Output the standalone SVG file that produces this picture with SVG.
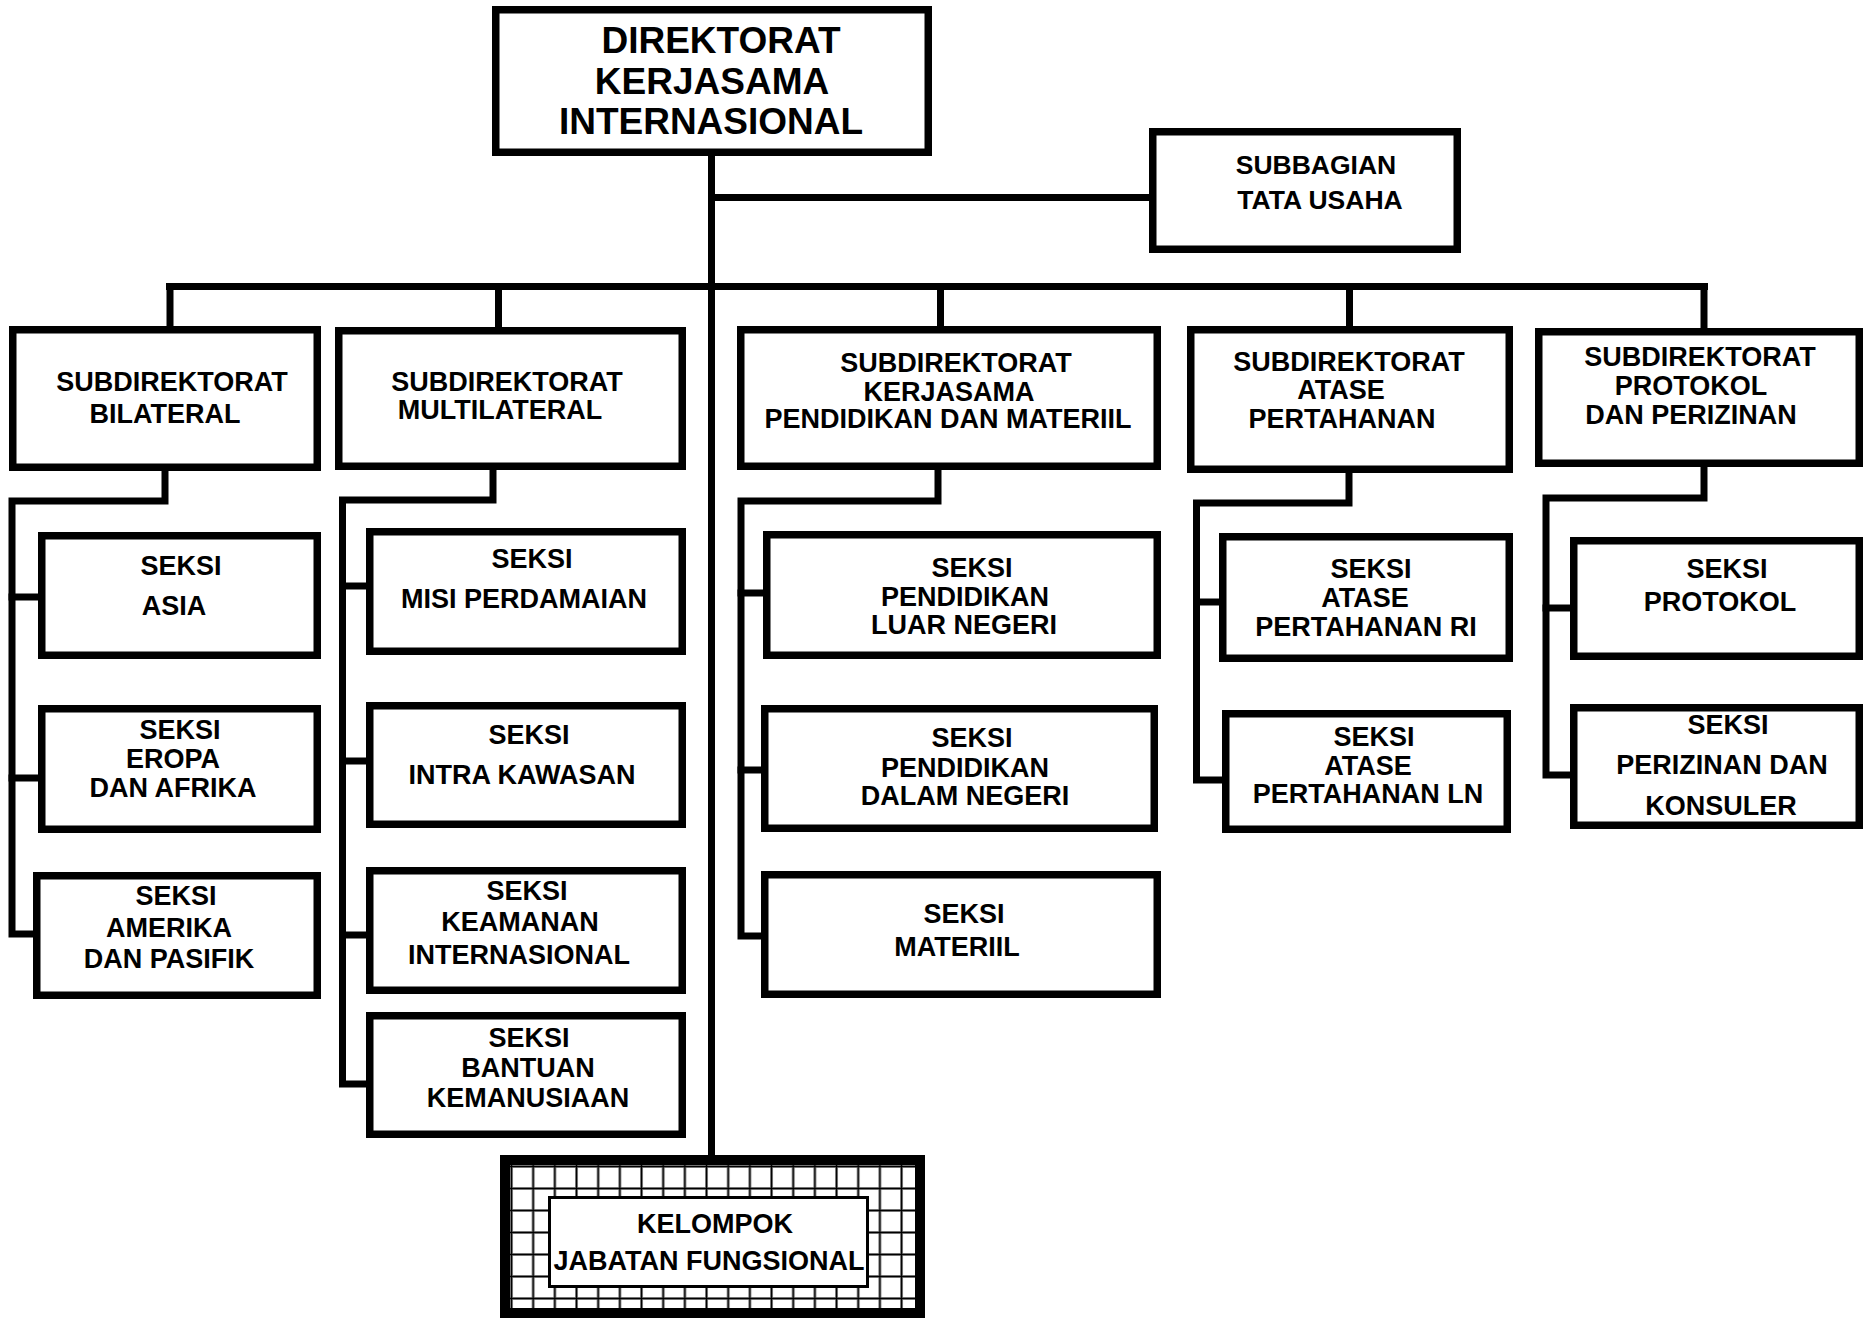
<svg xmlns="http://www.w3.org/2000/svg" width="1865" height="1320" viewBox="0 0 1865 1320">
<style>
.box{fill:#fff;stroke:#000;stroke-width:7.5}
.t{font-family:"Liberation Sans",Arial,sans-serif;font-weight:bold;font-size:27px;fill:#000;text-anchor:middle}
.big{font-size:37px}
.sb{font-size:26.5px}
.k{font-size:27px}
.c{fill:none;stroke:#000;stroke-width:7;stroke-linecap:square;stroke-linejoin:miter}
</style>
<defs>
<pattern id="grid" patternUnits="userSpaceOnUse" x="510" y="1165" width="21.67" height="22">
<rect x="0" y="0" width="21.67" height="22" fill="#fff"/>
<rect x="0" y="0" width="3" height="22" fill="#999"/>
<rect x="0" y="0" width="21.67" height="3" fill="#999"/>
<rect x="0.75" y="0" width="1.5" height="22" fill="#000"/>
<rect x="0" y="0.75" width="21.67" height="1.5" fill="#000"/>
</pattern>
</defs>
<rect width="1865" height="1320" fill="#fff"/>
<g id="connectors">
<path class="c" d="M711.5 156 V1155"/>
<path class="c" d="M711.5 197.5 H1149"/>
<path class="c" d="M169.5 286.5 H1704.5"/>
<path class="c" d="M170 290 V326"/>
<path class="c" d="M498.5 290 V327"/>
<path class="c" d="M940.5 290 V326"/>
<path class="c" d="M1349.5 290 V326"/>
<path class="c" d="M1704 290 V328"/>
<path class="c" d="M165 471 V501 H12 V934 H33"/>
<path class="c" d="M12 597 H38"/>
<path class="c" d="M12 778 H38"/>
<path class="c" d="M493 470 V500 H342.5 V1084 H366"/>
<path class="c" d="M342.5 586 H366"/>
<path class="c" d="M342.5 761 H366"/>
<path class="c" d="M342.5 935 H366"/>
<path class="c" d="M938 470 V501 H741 V936 H761"/>
<path class="c" d="M741 593 H763"/>
<path class="c" d="M741 770 H761"/>
<path class="c" d="M1349 473 V503 H1196.5 V780 H1222"/>
<path class="c" d="M1196.5 602 H1219"/>
<path class="c" d="M1704 467 V498 H1546 V775 H1570"/>
<path class="c" d="M1546 608 H1570"/>
</g>
<g id="direktorat">
<rect class="box" x="495.75" y="9.75" width="432.5" height="142.5"/>
<text class="t big" x="721" y="53">DIREKTORAT</text>
<text class="t big" x="712" y="94">KERJASAMA</text>
<text class="t big" x="711" y="134">INTERNASIONAL</text>
</g>
<g id="subbagian">
<rect class="box" x="1152.75" y="131.75" width="304.5" height="117.5"/>
<text class="t sb" x="1316" y="174">SUBBAGIAN</text>
<text class="t sb" x="1320" y="209">TATA USAHA</text>
</g>
<g id="sub-bilateral">
<rect class="box" x="12.75" y="329.75" width="304.5" height="137.5"/>
<text class="t" x="172" y="391">SUBDIREKTORAT</text>
<text class="t" x="165" y="423">BILATERAL</text>
</g>
<g id="sub-multilateral">
<rect class="box" x="338.75" y="330.75" width="343.5" height="135.5"/>
<text class="t" x="507" y="391">SUBDIREKTORAT</text>
<text class="t" x="500" y="419">MULTILATERAL</text>
</g>
<g id="sub-kerjasama">
<rect class="box" x="740.75" y="329.75" width="416.5" height="136.5"/>
<text class="t" x="956" y="372">SUBDIREKTORAT</text>
<text class="t" x="949" y="401">KERJASAMA</text>
<text class="t" x="948" y="428">PENDIDIKAN DAN MATERIIL</text>
</g>
<g id="sub-atase">
<rect class="box" x="1190.75" y="329.75" width="318.5" height="139.5"/>
<text class="t" x="1349" y="371">SUBDIREKTORAT</text>
<text class="t" x="1341" y="399">ATASE</text>
<text class="t" x="1342" y="428">PERTAHANAN</text>
</g>
<g id="sub-protokol">
<rect class="box" x="1538.75" y="331.75" width="320.5" height="131.5"/>
<text class="t" x="1700" y="366">SUBDIREKTORAT</text>
<text class="t" x="1691" y="395">PROTOKOL</text>
<text class="t" x="1691" y="424">DAN PERIZINAN</text>
</g>
<g id="seksi-asia">
<rect class="box" x="41.75" y="535.75" width="275.5" height="119.5"/>
<text class="t" x="181" y="575">SEKSI</text>
<text class="t" x="174" y="615">ASIA</text>
</g>
<g id="seksi-eropa">
<rect class="box" x="41.75" y="708.75" width="275.5" height="120.5"/>
<text class="t" x="180" y="739">SEKSI</text>
<text class="t" x="173" y="768">EROPA</text>
<text class="t" x="173" y="797">DAN AFRIKA</text>
</g>
<g id="seksi-amerika">
<rect class="box" x="36.75" y="875.75" width="280.5" height="119.5"/>
<text class="t" x="176" y="905">SEKSI</text>
<text class="t" x="169" y="937">AMERIKA</text>
<text class="t" x="169" y="968">DAN PASIFIK</text>
</g>
<g id="seksi-misi">
<rect class="box" x="369.75" y="531.75" width="312.5" height="119.5"/>
<text class="t" x="532" y="568">SEKSI</text>
<text class="t" x="524" y="608">MISI PERDAMAIAN</text>
</g>
<g id="seksi-intra">
<rect class="box" x="369.75" y="705.75" width="312.5" height="118.5"/>
<text class="t" x="529" y="744">SEKSI</text>
<text class="t" x="522" y="784">INTRA KAWASAN</text>
</g>
<g id="seksi-keamanan">
<rect class="box" x="369.75" y="870.75" width="312.5" height="119.5"/>
<text class="t" x="527" y="900">SEKSI</text>
<text class="t" x="520" y="931">KEAMANAN</text>
<text class="t" x="519" y="964">INTERNASIONAL</text>
</g>
<g id="seksi-bantuan">
<rect class="box" x="369.75" y="1015.75" width="312.5" height="118.5"/>
<text class="t" x="529" y="1047">SEKSI</text>
<text class="t" x="528" y="1077">BANTUAN</text>
<text class="t" x="528" y="1107">KEMANUSIAAN</text>
</g>
<g id="seksi-luar-negeri">
<rect class="box" x="766.75" y="534.75" width="390.5" height="120.5"/>
<text class="t" x="972" y="577">SEKSI</text>
<text class="t" x="965" y="606">PENDIDIKAN</text>
<text class="t" x="964" y="634">LUAR NEGERI</text>
</g>
<g id="seksi-dalam-negeri">
<rect class="box" x="764.75" y="708.75" width="389.5" height="119.5"/>
<text class="t" x="972" y="747">SEKSI</text>
<text class="t" x="965" y="777">PENDIDIKAN</text>
<text class="t" x="965" y="805">DALAM NEGERI</text>
</g>
<g id="seksi-materiil">
<rect class="box" x="764.75" y="874.75" width="392.5" height="119.5"/>
<text class="t" x="964" y="923">SEKSI</text>
<text class="t" x="957" y="956">MATERIIL</text>
</g>
<g id="seksi-atase-ri">
<rect class="box" x="1222.75" y="536.75" width="286.5" height="121.5"/>
<text class="t" x="1371" y="578">SEKSI</text>
<text class="t" x="1365" y="607">ATASE</text>
<text class="t" x="1366" y="636">PERTAHANAN RI</text>
</g>
<g id="seksi-atase-ln">
<rect class="box" x="1225.75" y="713.75" width="281.5" height="115.5"/>
<text class="t" x="1374" y="746">SEKSI</text>
<text class="t" x="1368" y="775">ATASE</text>
<text class="t" x="1368" y="803">PERTAHANAN LN</text>
</g>
<g id="seksi-protokol">
<rect class="box" x="1573.75" y="540.75" width="285.5" height="115.5"/>
<text class="t" x="1727" y="578">SEKSI</text>
<text class="t" x="1720" y="611">PROTOKOL</text>
</g>
<g id="seksi-perizinan">
<rect class="box" x="1573.75" y="707.75" width="285.5" height="117.5"/>
<text class="t" x="1728" y="734">SEKSI</text>
<text class="t" x="1722" y="774">PERIZINAN DAN</text>
<text class="t" x="1721" y="815">KONSULER</text>
</g>
<g id="kelompok">
<rect x="505" y="1160" width="415" height="153" fill="url(#grid)" stroke="#000" stroke-width="10"/>
<rect x="549.5" y="1197.5" width="318" height="89" fill="#fff" stroke="#000" stroke-width="3"/>
<text class="t k" x="715" y="1233">KELOMPOK</text>
<text class="t k" x="709" y="1270">JABATAN FUNGSIONAL</text>
</g>
</svg>
